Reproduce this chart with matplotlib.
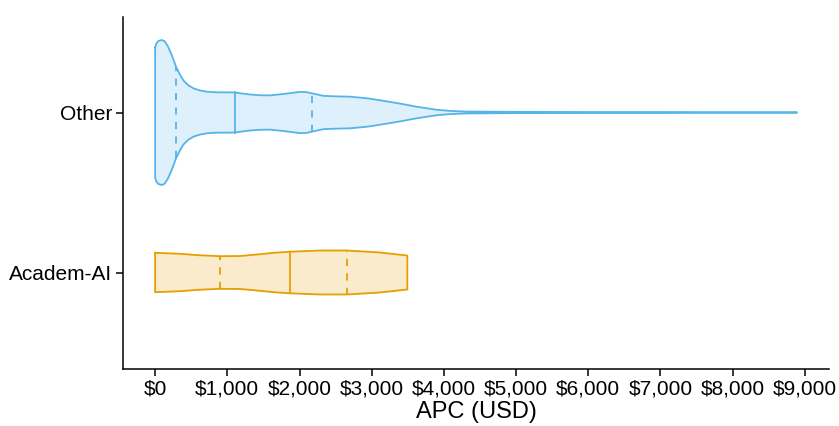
import numpy as np
import matplotlib
matplotlib.use("Agg")
import matplotlib.pyplot as plt
from matplotlib.ticker import FuncFormatter

# categories (bottom -> top)
groups = ["Academ-AI", "Other"]

# violin outline: APC (USD) and half-width (category units)
other_apc = [0, 15, 45, 92, 130, 175, 230, 286, 340, 392, 460, 531, 620, 716,
             850, 1000, 1108, 1200, 1316, 1450, 1593, 1800, 2008, 2100, 2179,
             2332, 2500, 2700, 2950, 3162, 3400, 3624, 3901, 4086, 4300, 5000,
             6000, 7000, 8000, 8890]
other_hw = [0.406, 0.43, 0.447, 0.453, 0.446, 0.415, 0.36, 0.29, 0.24, 0.20,
            0.17, 0.151, 0.138, 0.130, 0.126, 0.126, 0.125, 0.119, 0.1125,
            0.108, 0.107, 0.117, 0.129, 0.127, 0.119, 0.104, 0.101, 0.099,
            0.088, 0.073, 0.055, 0.036, 0.017, 0.010, 0.006, 0.004, 0.003,
            0.003, 0.002, 0.002]

acad_apc = [0, 346, 600, 900, 1177, 1400, 1638, 1870, 2285, 2655, 3116, 3494]
acad_hw = [0.123, 0.117, 0.108, 0.102, 0.103, 0.112, 0.123, 0.130, 0.1375,
           0.1375, 0.125, 0.106]

# quartiles (25%, 50%, 75%)
other_q = [290, 1100, 2177]
acad_q = [900, 1872, 2652]

edge_cols = ["#E69F00", "#56B4E9"]
fill_cols = ["#FAEBCC", "#DDF0FB"]

plt.rcParams["font.family"] = ["Liberation Sans", "DejaVu Sans"]

fig = plt.figure(figsize=(8.39, 4.26), dpi=100)
ax = fig.add_axes([123 / 839, (426 - 368.5) / 426, (829 - 123) / 839, (368.5 - 16.5) / 426])

profiles = [(acad_apc, acad_hw, acad_q), (other_apc, other_hw, other_q)]
for i, (xs, hw, qs) in enumerate(profiles):
    pos = i + 1
    xs = np.array(xs, dtype=float)
    hw = np.array(hw)
    ax.fill_between(xs, pos - hw, pos + hw, color=fill_cols[i], lw=0)
    # outline
    ox = np.concatenate([xs, xs[::-1], xs[:1]])
    oy = np.concatenate([pos + hw, (pos - hw)[::-1], [pos + hw[0]]])
    ax.plot(ox, oy, color=edge_cols[i], lw=1.3, solid_joinstyle="round")
    for j, q in enumerate(qs):
        h = np.interp(q, xs, hw)
        ax.plot([q, q], [pos - h, pos + h], color=edge_cols[i], lw=1.3,
                ls="-" if j == 1 else (0, (4, 4)))

ax.set_xlim(-445, 9335)
ax.set_ylim(0.4, 2.6)
ax.set_yticks([1, 2])
ax.set_yticklabels(groups)
ax.set_xticks(np.arange(0, 9001, 1000))
ax.xaxis.set_major_formatter(FuncFormatter(lambda v, p: "${:,.0f}".format(v)))
ax.set_xlabel("APC (USD)", fontsize=17, labelpad=2)
ax.tick_params(labelsize=15, length=5, width=1.1, color="black", labelcolor="black", pad=3)
for s in ["top", "right"]:
    ax.spines[s].set_visible(False)
for s in ["left", "bottom"]:
    ax.spines[s].set_linewidth(1.1)

fig.savefig("out.png", dpi=100)
